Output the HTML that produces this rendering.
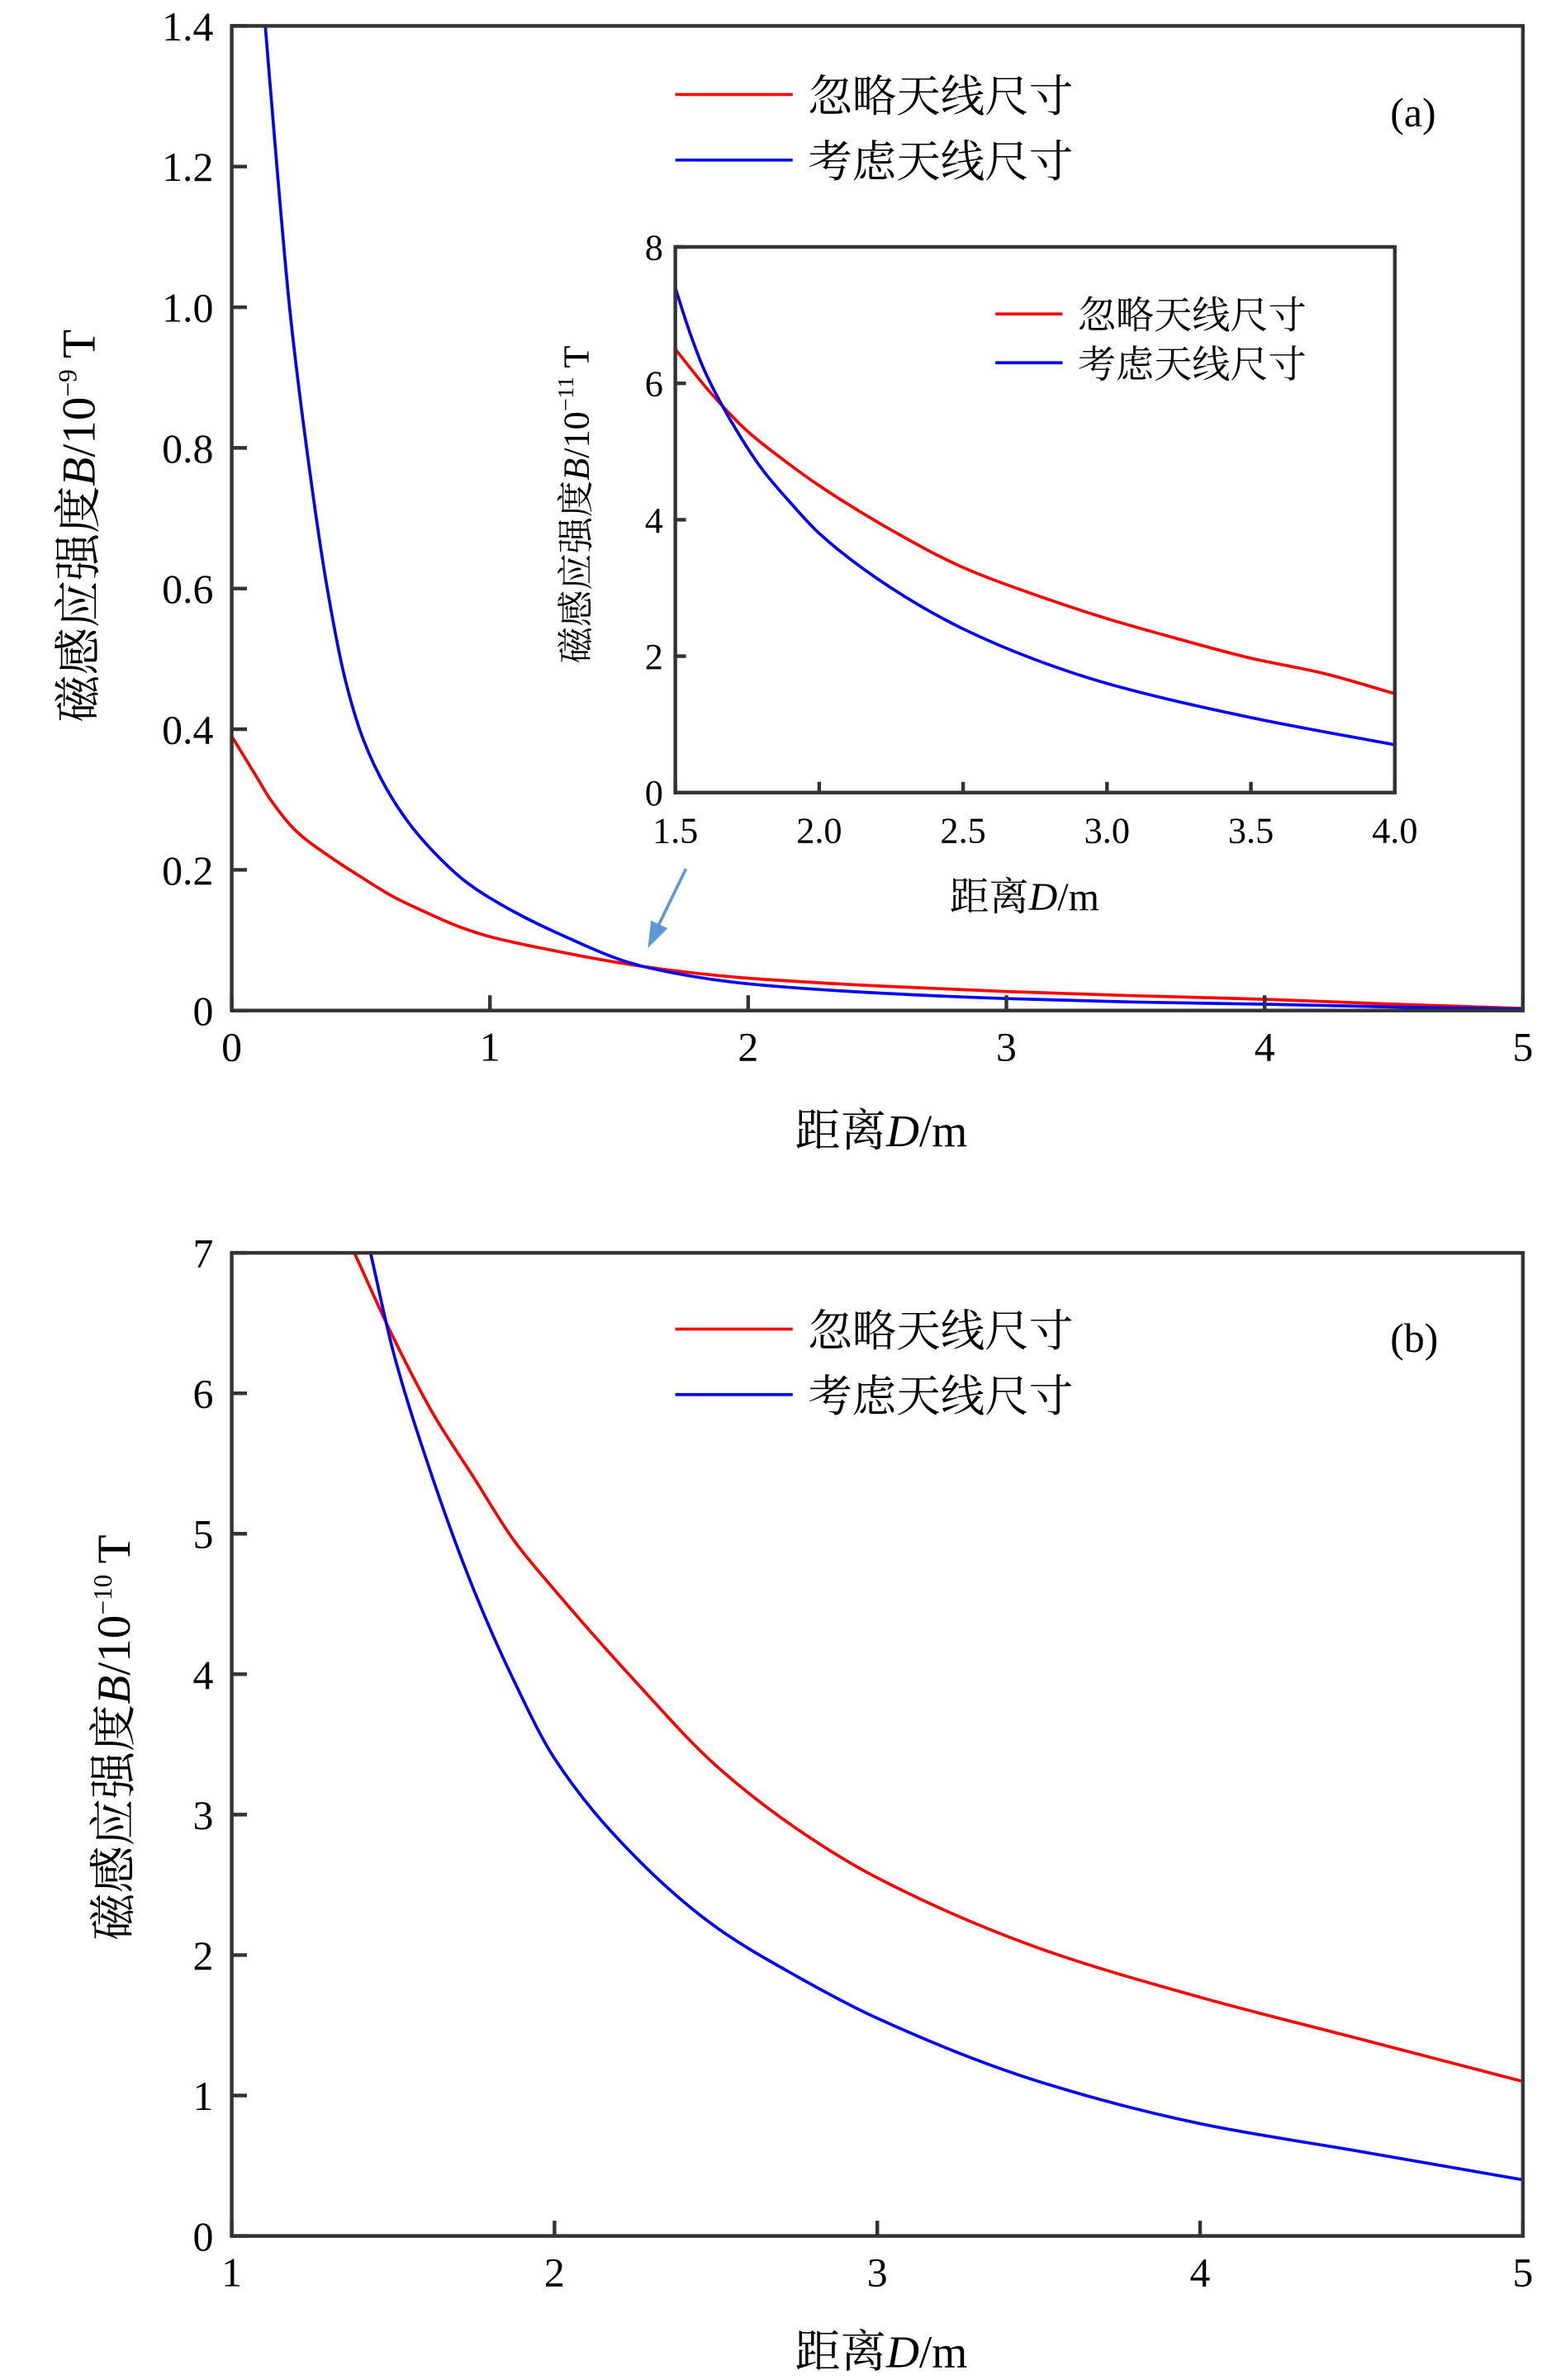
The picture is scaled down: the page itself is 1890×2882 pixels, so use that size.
<!DOCTYPE html>
<html><head><meta charset="utf-8"><style>
html,body{margin:0;padding:0;background:#fff}
svg{display:block}
text{font-family:"Liberation Serif","Noto Serif CJK SC",serif;fill:#000}
</style></head><body>
<svg id="fig" width="1890" height="2882" viewBox="0 0 1024 1561.5" xmlns="http://www.w3.org/2000/svg"></svg>
<script>
// Panel (a)
const aRedX=[0,0.05,0.1,0.15,0.25,0.375,0.5,0.625,0.75,0.875,1,1.25,1.5,1.75,2,2.5,3,3.5,4,4.5,5];
const aRedY=[0.39,0.36,0.33,0.3,0.255,0.22,0.19,0.162,0.14,0.12,0.105,0.085,0.068,0.055,0.046,0.035,0.027,0.021,0.016,0.009,0.003];
const aBlueX=[0.13,0.175,0.224,0.29,0.37,0.44,0.51,0.6,0.7,0.81,0.9,1,1.25,1.6,2,2.5,3,3.5,4,4.5,5];
const aBlueY=[1.4,1.2,1.0,0.8,0.6,0.47,0.385,0.315,0.26,0.215,0.185,0.16,0.112,0.062,0.038,0.025,0.017,0.012,0.009,0.005,0.002];
const aXTicks=[0,1,2,3,4,5];
const aYTicks=[0,0.2,0.4,0.6,0.8,1.0,1.2,1.4];
const aYLabels=["0","0.2","0.4","0.6","0.8","1.0","1.2","1.4"];
// Inset
const iRedX=[1.5,1.625,1.75,1.875,2,2.25,2.5,2.75,3,3.25,3.5,3.75,4];
const iRedY=[6.5,5.85,5.3,4.88,4.5,3.85,3.3,2.9,2.55,2.25,1.97,1.75,1.45];
const iBlueX=[1.5,1.55,1.6,1.7,1.8,1.9,2,2.25,2.5,2.75,3,3.5,4];
const iBlueY=[7.4,6.75,6.2,5.4,4.75,4.25,3.8,3.0,2.4,1.95,1.6,1.1,0.7];
const iXTicks=[1.5,2.0,2.5,3.0,3.5,4.0];
const iXLabels=["1.5","2.0","2.5","3.0","3.5","4.0"];
const iYTicks=[0,2,4,6,8];
// Panel (b)
const bRedX=[1.38,1.5,1.625,1.75,1.875,2,2.25,2.5,2.75,3,3.5,4,4.5,5];
const bRedY=[7,6.4,5.85,5.4,4.95,4.6,3.95,3.35,2.9,2.55,2.05,1.7,1.4,1.1];
const bBlueX=[1.43,1.5,1.6,1.75,1.875,2,2.25,2.5,2.75,3,3.5,4,4.5,5];
const bBlueY=[7,6.3,5.55,4.6,3.95,3.4,2.7,2.2,1.85,1.55,1.1,0.8,0.6,0.4];
const bXTicks=[1,2,3,4,5];
const bYTicks=[0,1,2,3,4,5,6,7];

const NS="http://www.w3.org/2000/svg";
const svg=document.getElementById('fig');
function mk(tag,attrs,parent,txt){const e=document.createElementNS(NS,tag);for(const k in attrs)e.setAttribute(k,attrs[k]);if(txt!==undefined)e.textContent=txt;(parent||svg).appendChild(e);return e;}
function scale(d0,d1,r0,r1){return v=>r0+(v-d0)/(d1-d0)*(r1-r0);}
// monotone cubic (Fritsch-Carlson) in screen coords
function smooth(pts){
  const n=pts.length,dx=[],s=[],m=[];
  for(let i=0;i<n-1;i++){dx[i]=pts[i+1][0]-pts[i][0];s[i]=(pts[i+1][1]-pts[i][1])/dx[i];}
  m[0]=s[0];m[n-1]=s[n-2];
  for(let i=1;i<n-1;i++){ if(s[i-1]*s[i]<=0)m[i]=0; else {const w1=2*dx[i]+dx[i-1],w2=dx[i]+2*dx[i-1];m[i]=(w1+w2)/(w1/s[i-1]+w2/s[i]);} }
  let d=`M${pts[0][0]},${pts[0][1]}`;
  for(let i=0;i<n-1;i++){const h=dx[i]/3;
    d+=`C${pts[i][0]+h},${pts[i][1]+m[i]*h} ${pts[i+1][0]-h},${pts[i+1][1]-m[i+1]*h} ${pts[i+1][0]},${pts[i+1][1]}`;}
  return d;
}
function series(xs,ys,sx,sy,color,name,g,w){
  const p=mk('path',{d:smooth(xs.map((x,i)=>[sx(x),sy(ys[i])])),fill:'none',stroke:color,'stroke-width':w},g);
  
  
}
function axes(g,x0,x1,y0,y1,sx,sy,xt,xl,yt,yl,fs,tl,yLabelDx,xLabelDy){
  const r=mk('rect',{x:x0,y:y1,width:x1-x0,height:y0-y1,fill:'none',stroke:'#333','stroke-width':2.4},g);
  
  
  xt.forEach((v,i)=>{const x=sx(v);
    mk('line',{x1:x,x2:x,y1:y0,y2:y0-tl,stroke:'#333','stroke-width':2.4},g);
    const t=mk('text',{x:x,y:y0+xLabelDy,'text-anchor':'middle','font-size':fs},g,xl[i]);
    
    });
  yt.forEach((v,i)=>{const y=sy(v);
    mk('line',{x1:x0,x2:x0+tl,y1:y,y2:y,stroke:'#333','stroke-width':2.4},g);
    const t=mk('text',{x:x0-yLabelDx,y:y+fs*0.35,'text-anchor':'end','font-size':fs},g,yl[i]);
    
    });
}
function legend(g,x,y1,y2,len,fs,w){
  [[y1,'#f00','忽略天线尺寸','legend-ignore-size'],[y2,'#00f','考虑天线尺寸','legend-consider-size']].forEach(([y,c,t,n])=>{
    const e=mk('g',{},g);
    
    
    mk('line',{x1:x,x2:x+len,y1:y,y2:y,stroke:c,'stroke-width':w},e);
    mk('text',{x:x+len+10,y:y+fs*0.38,'font-size':fs},e,t);
  });
}
// ---- panel a
{
const g=mk('g',{});
const sx=scale(0,5,152,999),sy=scale(0,1.4,663,17);
series(aRedX,aRedY,sx,sy,'#f00','series-ignore-size-a',g,2);
series(aBlueX,aBlueY,sx,sy,'#00f','series-consider-size-a',g,2);
axes(g,152,999,663,17,sx,sy,aXTicks,aXTicks.map(String),aYTicks,aYLabels,27,10,12,33);
legend(g,443,62,105,77,29,2);
const l=mk('text',{x:912,y:83,'font-size':27},g,'(a)');
const xl=mk('text',{x:578,y:752,'text-anchor':'middle','font-size':30},g);
xl.innerHTML='距离<tspan font-style="italic">D</tspan>/m';
const yl=mk('text',{transform:'translate(62,345) rotate(-90)','text-anchor':'middle','font-size':31},g);
yl.innerHTML='磁感应强度<tspan font-style="italic">B</tspan>/10<tspan dy="-12" font-size="17">−9</tspan><tspan dy="12"> T</tspan>';
const ar=mk('g',{},g);
mk('line',{x1:450,y1:570,x2:432,y2:607,stroke:'#5b9bd5','stroke-width':2},ar);
mk('polygon',{points:'425,622 427,604 438,609',fill:'#5b9bd5'},ar);
// inset
const gi=mk('g',{},g);
mk('rect',{x:443,y:162,width:472,height:358,fill:'#fff'},gi);
const ix=scale(1.5,4,443,915),iy=scale(0,8,520,162);
series(iRedX,iRedY,ix,iy,'#f00','series-ignore-size-inset',gi,2);
series(iBlueX,iBlueY,ix,iy,'#00f','series-consider-size-inset',gi,2);
axes(gi,443,915,520,162,ix,iy,iXTicks,iXLabels,iYTicks,iYTicks.map(String),24,7,8,33);
legend(gi,653,206,238,44,25,2);
const ixl=mk('text',{x:672,y:597,'text-anchor':'middle','font-size':26},gi);
ixl.innerHTML='距离<tspan font-style="italic">D</tspan>/m';
const iyl=mk('text',{transform:'translate(386,331) rotate(-90)','text-anchor':'middle','font-size':24},gi);
iyl.innerHTML='磁感应强度<tspan font-style="italic">B</tspan>/10<tspan dy="-10" font-size="15">−11</tspan><tspan dy="10"> T</tspan>';
}
// ---- panel b
{
const g=mk('g',{});
const sx=scale(1,5,152,999),sy=scale(0,7,1467,822);
const cp=mk('clipPath',{id:'cb'},g);mk('rect',{x:152,y:822,width:847,height:645},cp);
const gc=mk('g',{'clip-path':'url(#cb)'},g);
series(bRedX,bRedY,sx,sy,'#f00','series-ignore-size-b',gc,2);
series(bBlueX,bBlueY,sx,sy,'#00f','series-consider-size-b',gc,2);
axes(g,152,999,1467,822,sx,sy,bXTicks,bXTicks.map(String),bYTicks,bYTicks.map(String),27,10,12,33);
legend(g,443,872,915,77,29,2);
const l=mk('text',{x:912,y:887,'font-size':27},g,'(b)');
const xl=mk('text',{x:578,y:1553,'text-anchor':'middle','font-size':30},g);
xl.innerHTML='距离<tspan font-style="italic">D</tspan>/m';
const yl=mk('text',{transform:'translate(85,1140) rotate(-90)','text-anchor':'middle','font-size':31},g);
yl.innerHTML='磁感应强度<tspan font-style="italic">B</tspan>/10<tspan dy="-12" font-size="17">−10</tspan><tspan dy="12"> T</tspan>';
}
</script>
</body></html>
